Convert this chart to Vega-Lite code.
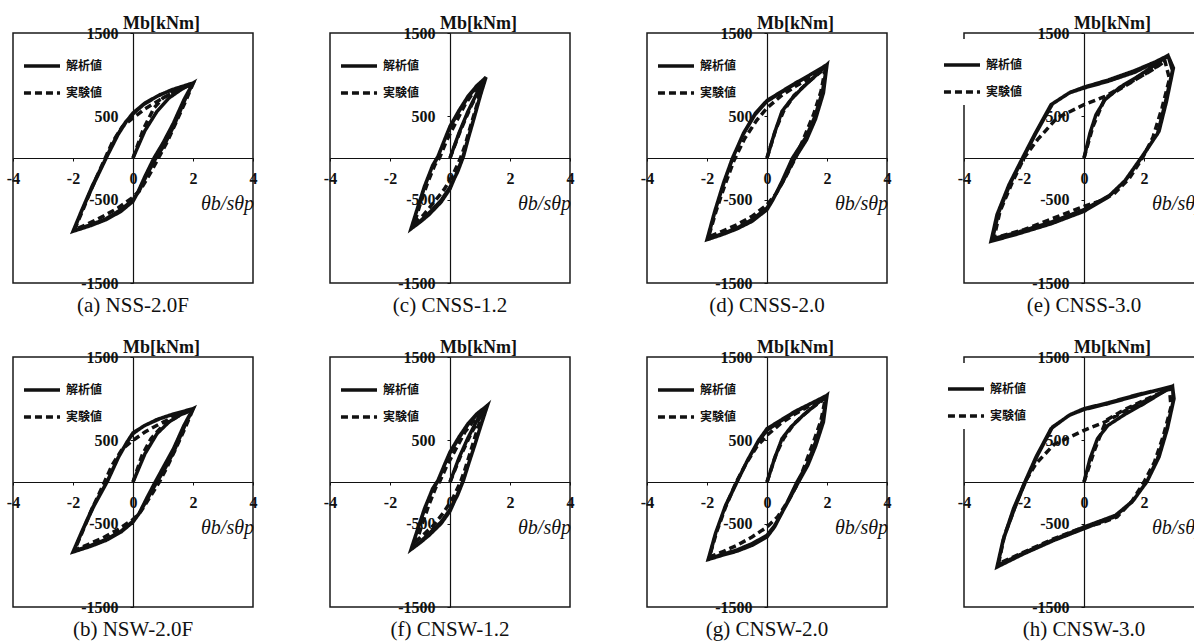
{
"$schema": "https://vega.github.io/schema/vega-lite/v6.json",
"padding": {"left": 5, "top": 13, "right": 0, "bottom": 0},
"columns": 4,
"spacing": {"row": 74, "column": 77},
"bounds": "flush",
"resolve": {"scale": {"x": "independent", "y": "independent", "strokeDash": "independent"}, "legend": {"strokeDash": "independent"}},
"datasets": {
"a": [
{"s":"解析値","o":0,"x":0,"y":0},{"s":"解析値","o":1,"x":0.4,"y":330},{"s":"解析値","o":2,"x":0.8,"y":560},{"s":"解析値","o":3,"x":1.2,"y":720},{"s":"解析値","o":4,"x":1.6,"y":820},{"s":"解析値","o":5,"x":2,"y":900},
{"s":"解析値","o":6,"x":1.7,"y":700},{"s":"解析値","o":7,"x":1.35,"y":420},{"s":"解析値","o":8,"x":1.0,"y":180},{"s":"解析値","o":9,"x":0.7,"y":0},{"s":"解析値","o":10,"x":0.4,"y":-220},{"s":"解析値","o":11,"x":0.15,"y":-420},{"s":"解析値","o":12,"x":0,"y":-520},{"s":"解析値","o":13,"x":-0.4,"y":-640},{"s":"解析値","o":14,"x":-0.9,"y":-740},{"s":"解析値","o":15,"x":-1.4,"y":-810},{"s":"解析値","o":16,"x":-2,"y":-880},
{"s":"解析値","o":17,"x":-1.7,"y":-620},{"s":"解析値","o":18,"x":-1.35,"y":-330},{"s":"解析値","o":19,"x":-0.9,"y":0},{"s":"解析値","o":20,"x":-0.55,"y":260},{"s":"解析値","o":21,"x":-0.25,"y":430},{"s":"解析値","o":22,"x":0,"y":530},{"s":"解析値","o":23,"x":0.35,"y":640},{"s":"解析値","o":24,"x":0.8,"y":740},{"s":"解析値","o":25,"x":1.3,"y":820},{"s":"解析値","o":26,"x":2,"y":900},
{"s":"解析値","o":27,"x":1.72,"y":690},{"s":"解析値","o":28,"x":1.38,"y":400},{"s":"解析値","o":29,"x":1.05,"y":160},{"s":"解析値","o":30,"x":0.75,"y":-10},{"s":"解析値","o":31,"x":0.45,"y":-210},{"s":"解析値","o":32,"x":0.2,"y":-400},{"s":"解析値","o":33,"x":0,"y":-500},{"s":"解析値","o":34,"x":-0.4,"y":-620},{"s":"解析値","o":35,"x":-0.9,"y":-730},{"s":"解析値","o":36,"x":-1.4,"y":-800},{"s":"解析値","o":37,"x":-1.98,"y":-870},
{"s":"解析値","o":38,"x":-1.68,"y":-610},{"s":"解析値","o":39,"x":-1.32,"y":-320},{"s":"解析値","o":40,"x":-0.88,"y":10},{"s":"解析値","o":41,"x":-0.5,"y":280},{"s":"解析値","o":42,"x":-0.2,"y":450},{"s":"解析値","o":43,"x":0,"y":540},{"s":"解析値","o":44,"x":0.4,"y":660},{"s":"解析値","o":45,"x":0.9,"y":760},{"s":"解析値","o":46,"x":1.4,"y":830},{"s":"解析値","o":47,"x":1.98,"y":895},
{"s":"実験値","o":0,"x":0,"y":0},{"s":"実験値","o":1,"x":0.35,"y":350},{"s":"実験値","o":2,"x":0.7,"y":600},{"s":"実験値","o":3,"x":1.0,"y":720},{"s":"実験値","o":4,"x":1.5,"y":820},{"s":"実験値","o":5,"x":2,"y":890},
{"s":"実験値","o":6,"x":1.75,"y":680},{"s":"実験値","o":7,"x":1.45,"y":440},{"s":"実験値","o":8,"x":1.15,"y":200},{"s":"実験値","o":9,"x":0.85,"y":0},{"s":"実験値","o":10,"x":0.55,"y":-200},{"s":"実験値","o":11,"x":0.25,"y":-380},{"s":"実験値","o":12,"x":0,"y":-470},{"s":"実験値","o":13,"x":-0.5,"y":-600},{"s":"実験値","o":14,"x":-1,"y":-700},{"s":"実験値","o":15,"x":-1.5,"y":-790},{"s":"実験値","o":16,"x":-1.95,"y":-860},
{"s":"実験値","o":17,"x":-1.7,"y":-650},{"s":"実験値","o":18,"x":-1.4,"y":-380},{"s":"実験値","o":19,"x":-1.0,"y":-60},{"s":"実験値","o":20,"x":-0.7,"y":180},{"s":"実験値","o":21,"x":-0.35,"y":380},{"s":"実験値","o":22,"x":0,"y":480},{"s":"実験値","o":23,"x":0.4,"y":590},{"s":"実験値","o":24,"x":0.9,"y":700},{"s":"実験値","o":25,"x":1.4,"y":800},{"s":"実験値","o":26,"x":1.95,"y":885}
],
"b": [
{"s":"解析値","o":0,"x":0,"y":0},{"s":"解析値","o":1,"x":0.4,"y":340},{"s":"解析値","o":2,"x":0.8,"y":580},{"s":"解析値","o":3,"x":1.2,"y":720},{"s":"解析値","o":4,"x":1.6,"y":810},{"s":"解析値","o":5,"x":2,"y":880},
{"s":"解析値","o":6,"x":1.7,"y":680},{"s":"解析値","o":7,"x":1.35,"y":400},{"s":"解析値","o":8,"x":1.0,"y":170},{"s":"解析値","o":9,"x":0.74,"y":0},{"s":"解析値","o":10,"x":0.45,"y":-200},{"s":"解析値","o":11,"x":0.2,"y":-380},{"s":"解析値","o":12,"x":0,"y":-480},{"s":"解析値","o":13,"x":-0.4,"y":-600},{"s":"解析値","o":14,"x":-0.9,"y":-700},{"s":"解析値","o":15,"x":-1.4,"y":-770},{"s":"解析値","o":16,"x":-2,"y":-840},
{"s":"解析値","o":17,"x":-1.7,"y":-590},{"s":"解析値","o":18,"x":-1.35,"y":-310},{"s":"解析値","o":19,"x":-0.87,"y":0},{"s":"解析値","o":20,"x":-0.5,"y":290},{"s":"解析値","o":21,"x":-0.2,"y":480},{"s":"解析値","o":22,"x":0,"y":580},{"s":"解析値","o":23,"x":0.35,"y":670},{"s":"解析値","o":24,"x":0.8,"y":750},{"s":"解析値","o":25,"x":1.3,"y":810},{"s":"解析値","o":26,"x":2,"y":880},
{"s":"解析値","o":27,"x":1.72,"y":670},{"s":"解析値","o":28,"x":1.38,"y":380},{"s":"解析値","o":29,"x":1.05,"y":150},{"s":"解析値","o":30,"x":0.78,"y":-10},{"s":"解析値","o":31,"x":0.5,"y":-190},{"s":"解析値","o":32,"x":0.22,"y":-370},{"s":"解析値","o":33,"x":0,"y":-470},{"s":"解析値","o":34,"x":-0.4,"y":-590},{"s":"解析値","o":35,"x":-0.9,"y":-690},{"s":"解析値","o":36,"x":-1.4,"y":-760},{"s":"解析値","o":37,"x":-1.98,"y":-830},
{"s":"解析値","o":38,"x":-1.68,"y":-580},{"s":"解析値","o":39,"x":-1.32,"y":-300},{"s":"解析値","o":40,"x":-0.85,"y":10},{"s":"解析値","o":41,"x":-0.48,"y":300},{"s":"解析値","o":42,"x":-0.18,"y":490},{"s":"解析値","o":43,"x":0,"y":590},{"s":"解析値","o":44,"x":0.4,"y":680},{"s":"解析値","o":45,"x":0.9,"y":760},{"s":"解析値","o":46,"x":1.4,"y":820},{"s":"解析値","o":47,"x":1.98,"y":875},
{"s":"実験値","o":0,"x":0,"y":0},{"s":"実験値","o":1,"x":0.3,"y":320},{"s":"実験値","o":2,"x":0.6,"y":520},{"s":"実験値","o":3,"x":1.0,"y":680},{"s":"実験値","o":4,"x":1.5,"y":790},{"s":"実験値","o":5,"x":2,"y":870},
{"s":"実験値","o":6,"x":1.75,"y":660},{"s":"実験値","o":7,"x":1.45,"y":420},{"s":"実験値","o":8,"x":1.15,"y":190},{"s":"実験値","o":9,"x":0.88,"y":0},{"s":"実験値","o":10,"x":0.55,"y":-190},{"s":"実験値","o":11,"x":0.25,"y":-360},{"s":"実験値","o":12,"x":0,"y":-450},{"s":"実験値","o":13,"x":-0.5,"y":-570},{"s":"実験値","o":14,"x":-1,"y":-670},{"s":"実験値","o":15,"x":-1.5,"y":-750},{"s":"実験値","o":16,"x":-1.95,"y":-820},
{"s":"実験値","o":17,"x":-1.7,"y":-610},{"s":"実験値","o":18,"x":-1.4,"y":-350},{"s":"実験値","o":19,"x":-1.0,"y":-40},{"s":"実験値","o":20,"x":-0.7,"y":200},{"s":"実験値","o":21,"x":-0.35,"y":400},{"s":"実験値","o":22,"x":0,"y":500},{"s":"実験値","o":23,"x":0.4,"y":600},{"s":"実験値","o":24,"x":0.9,"y":700},{"s":"実験値","o":25,"x":1.4,"y":790},{"s":"実験値","o":26,"x":1.95,"y":865}
],
"c": [
{"s":"解析値","o":0,"x":0,"y":0},{"s":"解析値","o":1,"x":0.3,"y":300},{"s":"解析値","o":2,"x":0.6,"y":560},{"s":"解析値","o":3,"x":0.9,"y":780},{"s":"解析値","o":4,"x":1.2,"y":970},
{"s":"解析値","o":5,"x":1.0,"y":740},{"s":"解析値","o":6,"x":0.8,"y":480},{"s":"解析値","o":7,"x":0.6,"y":230},{"s":"解析値","o":8,"x":0.42,"y":0},{"s":"解析値","o":9,"x":0.2,"y":-200},{"s":"解析値","o":10,"x":0,"y":-370},{"s":"解析値","o":11,"x":-0.3,"y":-530},{"s":"解析値","o":12,"x":-0.7,"y":-680},{"s":"解析値","o":13,"x":-1.0,"y":-770},{"s":"解析値","o":14,"x":-1.3,"y":-850},
{"s":"解析値","o":15,"x":-1.1,"y":-620},{"s":"解析値","o":16,"x":-0.85,"y":-340},{"s":"解析値","o":17,"x":-0.6,"y":-110},{"s":"解析値","o":18,"x":-0.42,"y":0},{"s":"解析値","o":19,"x":-0.2,"y":200},{"s":"解析値","o":20,"x":0,"y":370},{"s":"解析値","o":21,"x":0.3,"y":560},{"s":"解析値","o":22,"x":0.6,"y":730},{"s":"解析値","o":23,"x":0.9,"y":860},{"s":"解析値","o":24,"x":1.2,"y":970},
{"s":"解析値","o":25,"x":1.02,"y":760},{"s":"解析値","o":26,"x":0.82,"y":500},{"s":"解析値","o":27,"x":0.62,"y":250},{"s":"解析値","o":28,"x":0.45,"y":20},{"s":"解析値","o":29,"x":0.25,"y":-170},{"s":"解析値","o":30,"x":0,"y":-350},{"s":"解析値","o":31,"x":-0.3,"y":-510},{"s":"解析値","o":32,"x":-0.7,"y":-660},{"s":"解析値","o":33,"x":-1.0,"y":-760},{"s":"解析値","o":34,"x":-1.28,"y":-840},
{"s":"解析値","o":35,"x":-1.08,"y":-600},{"s":"解析値","o":36,"x":-0.82,"y":-320},{"s":"解析値","o":37,"x":-0.58,"y":-90},{"s":"解析値","o":38,"x":-0.4,"y":20},{"s":"解析値","o":39,"x":-0.18,"y":220},{"s":"解析値","o":40,"x":0,"y":380},{"s":"解析値","o":41,"x":0.3,"y":570},{"s":"解析値","o":42,"x":0.6,"y":740},{"s":"解析値","o":43,"x":0.9,"y":870},{"s":"解析値","o":44,"x":1.18,"y":960},
{"s":"実験値","o":0,"x":0,"y":0},{"s":"実験値","o":1,"x":0.35,"y":330},{"s":"実験値","o":2,"x":0.7,"y":620},{"s":"実験値","o":3,"x":1.15,"y":940},
{"s":"実験値","o":4,"x":0.95,"y":700},{"s":"実験値","o":5,"x":0.7,"y":400},{"s":"実験値","o":6,"x":0.5,"y":150},{"s":"実験値","o":7,"x":0.35,"y":0},{"s":"実験値","o":8,"x":0.1,"y":-200},{"s":"実験値","o":9,"x":-0.2,"y":-380},{"s":"実験値","o":10,"x":-0.6,"y":-560},{"s":"実験値","o":11,"x":-0.9,"y":-690},{"s":"実験値","o":12,"x":-1.2,"y":-800},
{"s":"実験値","o":13,"x":-1.0,"y":-560},{"s":"実験値","o":14,"x":-0.75,"y":-300},{"s":"実験値","o":15,"x":-0.5,"y":-80},{"s":"実験値","o":16,"x":-0.35,"y":0},{"s":"実験値","o":17,"x":-0.1,"y":220},{"s":"実験値","o":18,"x":0.2,"y":430},{"s":"実験値","o":19,"x":0.5,"y":640},{"s":"実験値","o":20,"x":0.8,"y":800},{"s":"実験値","o":21,"x":1.15,"y":940}
],
"f": [
{"s":"解析値","o":0,"x":0,"y":0},{"s":"解析値","o":1,"x":0.3,"y":290},{"s":"解析値","o":2,"x":0.6,"y":530},{"s":"解析値","o":3,"x":0.9,"y":740},{"s":"解析値","o":4,"x":1.25,"y":920},
{"s":"解析値","o":5,"x":1.05,"y":700},{"s":"解析値","o":6,"x":0.83,"y":450},{"s":"解析値","o":7,"x":0.62,"y":220},{"s":"解析値","o":8,"x":0.42,"y":0},{"s":"解析値","o":9,"x":0.2,"y":-190},{"s":"解析値","o":10,"x":0,"y":-350},{"s":"解析値","o":11,"x":-0.3,"y":-500},{"s":"解析値","o":12,"x":-0.7,"y":-640},{"s":"解析値","o":13,"x":-1.0,"y":-730},{"s":"解析値","o":14,"x":-1.3,"y":-810},
{"s":"解析値","o":15,"x":-1.1,"y":-590},{"s":"解析値","o":16,"x":-0.85,"y":-320},{"s":"解析値","o":17,"x":-0.6,"y":-100},{"s":"解析値","o":18,"x":-0.42,"y":0},{"s":"解析値","o":19,"x":-0.2,"y":190},{"s":"解析値","o":20,"x":0,"y":350},{"s":"解析値","o":21,"x":0.3,"y":530},{"s":"解析値","o":22,"x":0.6,"y":690},{"s":"解析値","o":23,"x":0.9,"y":810},{"s":"解析値","o":24,"x":1.25,"y":920},
{"s":"解析値","o":25,"x":1.06,"y":720},{"s":"解析値","o":26,"x":0.85,"y":470},{"s":"解析値","o":27,"x":0.64,"y":240},{"s":"解析値","o":28,"x":0.45,"y":20},{"s":"解析値","o":29,"x":0.25,"y":-160},{"s":"解析値","o":30,"x":0,"y":-330},{"s":"解析値","o":31,"x":-0.3,"y":-480},{"s":"解析値","o":32,"x":-0.7,"y":-620},{"s":"解析値","o":33,"x":-1.0,"y":-720},{"s":"解析値","o":34,"x":-1.28,"y":-800},
{"s":"解析値","o":35,"x":-1.08,"y":-570},{"s":"解析値","o":36,"x":-0.82,"y":-300},{"s":"解析値","o":37,"x":-0.58,"y":-80},{"s":"解析値","o":38,"x":-0.4,"y":20},{"s":"解析値","o":39,"x":-0.18,"y":210},{"s":"解析値","o":40,"x":0,"y":360},{"s":"解析値","o":41,"x":0.3,"y":540},{"s":"解析値","o":42,"x":0.6,"y":700},{"s":"解析値","o":43,"x":0.9,"y":820},{"s":"解析値","o":44,"x":1.22,"y":910},
{"s":"実験値","o":0,"x":0,"y":0},{"s":"実験値","o":1,"x":0.35,"y":310},{"s":"実験値","o":2,"x":0.7,"y":580},{"s":"実験値","o":3,"x":1.1,"y":840},
{"s":"実験値","o":4,"x":0.9,"y":620},{"s":"実験値","o":5,"x":0.68,"y":360},{"s":"実験値","o":6,"x":0.48,"y":130},{"s":"実験値","o":7,"x":0.35,"y":0},{"s":"実験値","o":8,"x":0.1,"y":-190},{"s":"実験値","o":9,"x":-0.2,"y":-360},{"s":"実験値","o":10,"x":-0.55,"y":-520},{"s":"実験値","o":11,"x":-0.85,"y":-620},{"s":"実験値","o":12,"x":-1.1,"y":-700},
{"s":"実験値","o":13,"x":-0.92,"y":-500},{"s":"実験値","o":14,"x":-0.7,"y":-270},{"s":"実験値","o":15,"x":-0.48,"y":-70},{"s":"実験値","o":16,"x":-0.35,"y":0},{"s":"実験値","o":17,"x":-0.1,"y":200},{"s":"実験値","o":18,"x":0.2,"y":400},{"s":"実験値","o":19,"x":0.5,"y":600},{"s":"実験値","o":20,"x":0.8,"y":740},{"s":"実験値","o":21,"x":1.1,"y":840}
],
"d": [
{"s":"解析値","o":0,"x":0,"y":0},{"s":"解析値","o":1,"x":0.25,"y":300},{"s":"解析値","o":2,"x":0.5,"y":560},{"s":"解析値","o":3,"x":0.8,"y":700},{"s":"解析値","o":4,"x":1.2,"y":850},{"s":"解析値","o":5,"x":1.6,"y":980},{"s":"解析値","o":6,"x":2,"y":1120},
{"s":"解析値","o":7,"x":1.85,"y":800},{"s":"解析値","o":8,"x":1.6,"y":500},{"s":"解析値","o":9,"x":1.3,"y":250},{"s":"解析値","o":10,"x":0.85,"y":0},{"s":"解析値","o":11,"x":0.5,"y":-280},{"s":"解析値","o":12,"x":0.2,"y":-500},{"s":"解析値","o":13,"x":0,"y":-620},{"s":"解析値","o":14,"x":-0.5,"y":-760},{"s":"解析値","o":15,"x":-1,"y":-850},{"s":"解析値","o":16,"x":-1.5,"y":-920},{"s":"解析値","o":17,"x":-2,"y":-980},
{"s":"解析値","o":18,"x":-1.75,"y":-650},{"s":"解析値","o":19,"x":-1.45,"y":-300},{"s":"解析値","o":20,"x":-1.15,"y":0},{"s":"解析値","o":21,"x":-0.8,"y":280},{"s":"解析値","o":22,"x":-0.4,"y":520},{"s":"解析値","o":23,"x":0,"y":680},{"s":"解析値","o":24,"x":0.4,"y":770},{"s":"解析値","o":25,"x":0.9,"y":880},{"s":"解析値","o":26,"x":1.4,"y":990},{"s":"解析値","o":27,"x":2,"y":1120},
{"s":"解析値","o":28,"x":1.88,"y":780},{"s":"解析値","o":29,"x":1.62,"y":470},{"s":"解析値","o":30,"x":1.32,"y":220},{"s":"解析値","o":31,"x":0.9,"y":-20},{"s":"解析値","o":32,"x":0.55,"y":-270},{"s":"解析値","o":33,"x":0.22,"y":-480},{"s":"解析値","o":34,"x":0,"y":-600},{"s":"解析値","o":35,"x":-0.5,"y":-740},{"s":"解析値","o":36,"x":-1,"y":-840},{"s":"解析値","o":37,"x":-1.5,"y":-910},{"s":"解析値","o":38,"x":-1.98,"y":-970},
{"s":"解析値","o":39,"x":-1.72,"y":-620},{"s":"解析値","o":40,"x":-1.42,"y":-280},{"s":"解析値","o":41,"x":-1.12,"y":20},{"s":"解析値","o":42,"x":-0.78,"y":300},{"s":"解析値","o":43,"x":-0.38,"y":540},{"s":"解析値","o":44,"x":0,"y":690},{"s":"解析値","o":45,"x":0.45,"y":790},{"s":"解析値","o":46,"x":0.95,"y":900},{"s":"解析値","o":47,"x":1.45,"y":1000},{"s":"解析値","o":48,"x":1.98,"y":1090},
{"s":"実験値","o":0,"x":0,"y":0},{"s":"実験値","o":1,"x":0.3,"y":350},{"s":"実験値","o":2,"x":0.55,"y":560},{"s":"実験値","o":3,"x":0.9,"y":750},{"s":"実験値","o":4,"x":1.4,"y":920},{"s":"実験値","o":5,"x":1.95,"y":1080},
{"s":"実験値","o":6,"x":1.8,"y":800},{"s":"実験値","o":7,"x":1.55,"y":520},{"s":"実験値","o":8,"x":1.25,"y":260},{"s":"実験値","o":9,"x":0.95,"y":0},{"s":"実験値","o":10,"x":0.6,"y":-240},{"s":"実験値","o":11,"x":0.3,"y":-430},{"s":"実験値","o":12,"x":0,"y":-560},{"s":"実験値","o":13,"x":-0.5,"y":-700},{"s":"実験値","o":14,"x":-1,"y":-800},{"s":"実験値","o":15,"x":-1.5,"y":-880},{"s":"実験値","o":16,"x":-1.95,"y":-950},
{"s":"実験値","o":17,"x":-1.7,"y":-640},{"s":"実験値","o":18,"x":-1.4,"y":-320},{"s":"実験値","o":19,"x":-1.1,"y":-30},{"s":"実験値","o":20,"x":-0.75,"y":230},{"s":"実験値","o":21,"x":-0.35,"y":450},{"s":"実験値","o":22,"x":0,"y":600},{"s":"実験値","o":23,"x":0.45,"y":740},{"s":"実験値","o":24,"x":0.95,"y":860},{"s":"実験値","o":25,"x":1.45,"y":960},{"s":"実験値","o":26,"x":1.95,"y":1070}
],
"g": [
{"s":"解析値","o":0,"x":0,"y":0},{"s":"解析値","o":1,"x":0.25,"y":280},{"s":"解析値","o":2,"x":0.5,"y":520},{"s":"解析値","o":3,"x":0.8,"y":660},{"s":"解析値","o":4,"x":1.2,"y":800},{"s":"解析値","o":5,"x":1.6,"y":920},{"s":"解析値","o":6,"x":2,"y":1040},
{"s":"解析値","o":7,"x":1.85,"y":740},{"s":"解析値","o":8,"x":1.6,"y":460},{"s":"解析値","o":9,"x":1.35,"y":220},{"s":"解析値","o":10,"x":1.0,"y":0},{"s":"解析値","o":11,"x":0.6,"y":-300},{"s":"解析値","o":12,"x":0.25,"y":-540},{"s":"解析値","o":13,"x":0,"y":-660},{"s":"解析値","o":14,"x":-0.5,"y":-760},{"s":"解析値","o":15,"x":-1,"y":-830},{"s":"解析値","o":16,"x":-1.5,"y":-880},{"s":"解析値","o":17,"x":-1.96,"y":-930},
{"s":"解析値","o":18,"x":-1.72,"y":-620},{"s":"解析値","o":19,"x":-1.4,"y":-300},{"s":"解析値","o":20,"x":-1.0,"y":0},{"s":"解析値","o":21,"x":-0.65,"y":260},{"s":"解析値","o":22,"x":-0.3,"y":480},{"s":"解析値","o":23,"x":0,"y":620},{"s":"解析値","o":24,"x":0.4,"y":720},{"s":"解析値","o":25,"x":0.9,"y":830},{"s":"解析値","o":26,"x":1.4,"y":930},{"s":"解析値","o":27,"x":2,"y":1040},
{"s":"解析値","o":28,"x":1.88,"y":720},{"s":"解析値","o":29,"x":1.62,"y":430},{"s":"解析値","o":30,"x":1.36,"y":200},{"s":"解析値","o":31,"x":1.02,"y":-20},{"s":"解析値","o":32,"x":0.62,"y":-290},{"s":"解析値","o":33,"x":0.26,"y":-520},{"s":"解析値","o":34,"x":0,"y":-640},{"s":"解析値","o":35,"x":-0.5,"y":-740},{"s":"解析値","o":36,"x":-1,"y":-815},{"s":"解析値","o":37,"x":-1.5,"y":-870},{"s":"解析値","o":38,"x":-1.94,"y":-920},
{"s":"解析値","o":39,"x":-1.7,"y":-600},{"s":"解析値","o":40,"x":-1.38,"y":-280},{"s":"解析値","o":41,"x":-0.98,"y":20},{"s":"解析値","o":42,"x":-0.62,"y":280},{"s":"解析値","o":43,"x":-0.28,"y":500},{"s":"解析値","o":44,"x":0,"y":640},{"s":"解析値","o":45,"x":0.45,"y":740},{"s":"解析値","o":46,"x":0.95,"y":850},{"s":"解析値","o":47,"x":1.45,"y":940},{"s":"解析値","o":48,"x":1.98,"y":1030},
{"s":"実験値","o":0,"x":0,"y":0},{"s":"実験値","o":1,"x":0.3,"y":330},{"s":"実験値","o":2,"x":0.55,"y":520},{"s":"実験値","o":3,"x":0.9,"y":700},{"s":"実験値","o":4,"x":1.4,"y":860},{"s":"実験値","o":5,"x":1.95,"y":1010},
{"s":"実験値","o":6,"x":1.8,"y":740},{"s":"実験値","o":7,"x":1.55,"y":480},{"s":"実験値","o":8,"x":1.3,"y":240},{"s":"実験値","o":9,"x":1.05,"y":0},{"s":"実験値","o":10,"x":0.7,"y":-230},{"s":"実験値","o":11,"x":0.35,"y":-420},{"s":"実験値","o":12,"x":0,"y":-540},{"s":"実験値","o":13,"x":-0.5,"y":-660},{"s":"実験値","o":14,"x":-1,"y":-760},{"s":"実験値","o":15,"x":-1.5,"y":-840},{"s":"実験値","o":16,"x":-1.92,"y":-900},
{"s":"実験値","o":17,"x":-1.68,"y":-600},{"s":"実験値","o":18,"x":-1.38,"y":-300},{"s":"実験値","o":19,"x":-1.05,"y":-20},{"s":"実験値","o":20,"x":-0.7,"y":220},{"s":"実験値","o":21,"x":-0.35,"y":420},{"s":"実験値","o":22,"x":0,"y":560},{"s":"実験値","o":23,"x":0.45,"y":700},{"s":"実験値","o":24,"x":0.95,"y":820},{"s":"実験値","o":25,"x":1.45,"y":920},{"s":"実験値","o":26,"x":1.95,"y":1000}
],
"e": [
{"s":"解析値","o":0,"x":0,"y":0},{"s":"解析値","o":1,"x":0.2,"y":300},{"s":"解析値","o":2,"x":0.4,"y":520},{"s":"解析値","o":3,"x":0.7,"y":700},{"s":"解析値","o":4,"x":1.2,"y":850},{"s":"解析値","o":5,"x":1.8,"y":980},{"s":"解析値","o":6,"x":2.3,"y":1100},{"s":"解析値","o":7,"x":2.8,"y":1230},
{"s":"解析値","o":8,"x":2.95,"y":1050},{"s":"解析値","o":9,"x":2.7,"y":650},{"s":"解析値","o":10,"x":2.45,"y":290},{"s":"解析値","o":11,"x":1.9,"y":0},{"s":"解析値","o":12,"x":1.35,"y":-280},{"s":"解析値","o":13,"x":0.8,"y":-470},{"s":"解析値","o":14,"x":0,"y":-640},{"s":"解析値","o":15,"x":-1.1,"y":-790},{"s":"解析値","o":16,"x":-2.2,"y":-910},{"s":"解析値","o":17,"x":-3.1,"y":-1000},
{"s":"解析値","o":18,"x":-2.9,"y":-680},{"s":"解析値","o":19,"x":-2.5,"y":-320},{"s":"解析値","o":20,"x":-2.05,"y":0},{"s":"解析値","o":21,"x":-1.65,"y":280},{"s":"解析値","o":22,"x":-1.1,"y":640},{"s":"解析値","o":23,"x":-0.5,"y":780},{"s":"解析値","o":24,"x":0,"y":840},{"s":"解析値","o":25,"x":0.8,"y":920},{"s":"解析値","o":26,"x":1.7,"y":1030},{"s":"解析値","o":27,"x":2.8,"y":1230},
{"s":"解析値","o":28,"x":2.98,"y":1080},{"s":"解析値","o":29,"x":2.75,"y":680},{"s":"解析値","o":30,"x":2.5,"y":320},{"s":"解析値","o":31,"x":1.95,"y":20},{"s":"解析値","o":32,"x":1.4,"y":-260},{"s":"解析値","o":33,"x":0.85,"y":-450},{"s":"解析値","o":34,"x":0,"y":-620},{"s":"解析値","o":35,"x":-1.1,"y":-770},{"s":"解析値","o":36,"x":-2.2,"y":-890},{"s":"解析値","o":37,"x":-3.05,"y":-970},
{"s":"解析値","o":38,"x":-2.85,"y":-660},{"s":"解析値","o":39,"x":-2.45,"y":-300},{"s":"解析値","o":40,"x":-2.0,"y":20},{"s":"解析値","o":41,"x":-1.6,"y":300},{"s":"解析値","o":42,"x":-1.05,"y":650},{"s":"解析値","o":43,"x":-0.45,"y":790},{"s":"解析値","o":44,"x":0,"y":850},{"s":"解析値","o":45,"x":0.8,"y":935},{"s":"解析値","o":46,"x":1.7,"y":1050},{"s":"解析値","o":47,"x":2.75,"y":1210},
{"s":"実験値","o":0,"x":0,"y":0},{"s":"実験値","o":1,"x":0.3,"y":380},{"s":"実験値","o":2,"x":0.7,"y":720},{"s":"実験値","o":3,"x":1.3,"y":850},{"s":"実験値","o":4,"x":2.0,"y":1000},{"s":"実験値","o":5,"x":2.7,"y":1160},
{"s":"実験値","o":6,"x":2.85,"y":950},{"s":"実験値","o":7,"x":2.6,"y":600},{"s":"実験値","o":8,"x":2.3,"y":250},{"s":"実験値","o":9,"x":1.95,"y":0},{"s":"実験値","o":10,"x":1.5,"y":-250},{"s":"実験値","o":11,"x":1.0,"y":-430},{"s":"実験値","o":12,"x":0.5,"y":-520},{"s":"実験値","o":13,"x":0,"y":-580},{"s":"実験値","o":14,"x":-1,"y":-720},{"s":"実験値","o":15,"x":-2,"y":-860},{"s":"実験値","o":16,"x":-3.0,"y":-960},
{"s":"実験値","o":17,"x":-2.8,"y":-640},{"s":"実験値","o":18,"x":-2.4,"y":-300},{"s":"実験値","o":19,"x":-2.0,"y":0},{"s":"実験値","o":20,"x":-1.55,"y":220},{"s":"実験値","o":21,"x":-0.9,"y":480},{"s":"実験値","o":22,"x":0,"y":640},{"s":"実験値","o":23,"x":0.7,"y":740},{"s":"実験値","o":24,"x":1.5,"y":900},{"s":"実験値","o":25,"x":2.2,"y":1040},{"s":"実験値","o":26,"x":2.7,"y":1160}
],
"h": [
{"s":"解析値","o":0,"x":0,"y":0},{"s":"解析値","o":1,"x":0.2,"y":280},{"s":"解析値","o":2,"x":0.45,"y":520},{"s":"解析値","o":3,"x":0.8,"y":680},{"s":"解析値","o":4,"x":1.4,"y":820},{"s":"解析値","o":5,"x":2.0,"y":940},{"s":"解析値","o":6,"x":2.5,"y":1050},{"s":"解析値","o":7,"x":2.95,"y":1150},
{"s":"解析値","o":8,"x":2.98,"y":980},{"s":"解析値","o":9,"x":2.75,"y":620},{"s":"解析値","o":10,"x":2.45,"y":280},{"s":"解析値","o":11,"x":2.09,"y":0},{"s":"解析値","o":12,"x":1.6,"y":-240},{"s":"解析値","o":13,"x":1.0,"y":-420},{"s":"解析値","o":14,"x":0,"y":-560},{"s":"解析値","o":15,"x":-1.0,"y":-700},{"s":"解析値","o":16,"x":-2.0,"y":-860},{"s":"解析値","o":17,"x":-2.9,"y":-1020},
{"s":"解析値","o":18,"x":-2.7,"y":-700},{"s":"解析値","o":19,"x":-2.35,"y":-320},{"s":"解析値","o":20,"x":-1.97,"y":0},{"s":"解析値","o":21,"x":-1.6,"y":300},{"s":"解析値","o":22,"x":-1.1,"y":640},{"s":"解析値","o":23,"x":-0.5,"y":800},{"s":"解析値","o":24,"x":0,"y":870},{"s":"解析値","o":25,"x":0.8,"y":940},{"s":"解析値","o":26,"x":1.8,"y":1040},{"s":"解析値","o":27,"x":2.95,"y":1150},
{"s":"解析値","o":28,"x":3.0,"y":1000},{"s":"解析値","o":29,"x":2.78,"y":640},{"s":"解析値","o":30,"x":2.5,"y":300},{"s":"解析値","o":31,"x":2.12,"y":20},{"s":"解析値","o":32,"x":1.65,"y":-220},{"s":"解析値","o":33,"x":1.05,"y":-400},{"s":"解析値","o":34,"x":0,"y":-540},{"s":"解析値","o":35,"x":-1.0,"y":-690},{"s":"解析値","o":36,"x":-2.0,"y":-850},{"s":"解析値","o":37,"x":-2.88,"y":-1000},
{"s":"解析値","o":38,"x":-2.68,"y":-680},{"s":"解析値","o":39,"x":-2.3,"y":-300},{"s":"解析値","o":40,"x":-1.93,"y":20},{"s":"解析値","o":41,"x":-1.55,"y":320},{"s":"解析値","o":42,"x":-1.05,"y":660},{"s":"解析値","o":43,"x":-0.45,"y":810},{"s":"解析値","o":44,"x":0,"y":880},{"s":"解析値","o":45,"x":0.8,"y":950},{"s":"解析値","o":46,"x":1.8,"y":1050},{"s":"解析値","o":47,"x":2.9,"y":1140},
{"s":"実験値","o":0,"x":0,"y":0},{"s":"実験値","o":1,"x":0.35,"y":380},{"s":"実験値","o":2,"x":0.74,"y":740},{"s":"実験値","o":3,"x":1.3,"y":860},{"s":"実験値","o":4,"x":2.0,"y":980},{"s":"実験値","o":5,"x":2.85,"y":1120},
{"s":"実験値","o":6,"x":2.9,"y":900},{"s":"実験値","o":7,"x":2.65,"y":560},{"s":"実験値","o":8,"x":2.35,"y":240},{"s":"実験値","o":9,"x":2.0,"y":0},{"s":"実験値","o":10,"x":1.6,"y":-230},{"s":"実験値","o":11,"x":1.1,"y":-420},{"s":"実験値","o":12,"x":0.5,"y":-500},{"s":"実験値","o":13,"x":0,"y":-540},{"s":"実験値","o":14,"x":-1,"y":-680},{"s":"実験値","o":15,"x":-2,"y":-840},{"s":"実験値","o":16,"x":-2.85,"y":-980},
{"s":"実験値","o":17,"x":-2.65,"y":-640},{"s":"実験値","o":18,"x":-2.3,"y":-300},{"s":"実験値","o":19,"x":-1.97,"y":0},{"s":"実験値","o":20,"x":-1.6,"y":220},{"s":"実験値","o":21,"x":-1.0,"y":450},{"s":"実験値","o":22,"x":0,"y":620},{"s":"実験値","o":23,"x":0.7,"y":720},{"s":"実験値","o":24,"x":1.5,"y":880},{"s":"実験値","o":25,"x":2.2,"y":1000},{"s":"実験値","o":26,"x":2.85,"y":1120}
]
},
"concat": [
{"title": "(a) NSS-2.0F", "data": {"name": "a"}, "width": 240, "height": 250,
 "mark": {"type": "line", "strokeWidth": 3.5, "color": "#111"},
 "encoding": {
  "x": {"field": "x", "type": "quantitative", "scale": {"domain": [-4, 4], "nice": false, "zero": false}, "axis": {"values": [-4, -2, 0, 2, 4], "labelExpr": "'' + datum.value", "offset": -125, "title": "θb/sθp", "titleX": 214, "titleY": 45}},
  "y": {"field": "y", "type": "quantitative", "scale": {"domain": [-1500, 1500], "nice": false}, "axis": {"values": [-1500, -500, 500, 1500], "labelExpr": "'' + datum.value", "offset": -120, "title": "Mb[kNm]", "titleX": 28, "titleY": -10}},
  "strokeDash": {"field": "s", "type": "nominal", "scale": {"domain": ["解析値", "実験値"], "range": [[1, 0], [7, 4]]}, "legend": {"title": null, "orient": "none", "legendX": 9, "legendY": 13}},
  "order": {"field": "o", "type": "quantitative"}}},
{"title": "(c) CNSS-1.2", "data": {"name": "c"}, "width": 240, "height": 250,
 "mark": {"type": "line", "strokeWidth": 3.5, "color": "#111"},
 "encoding": {
  "x": {"field": "x", "type": "quantitative", "scale": {"domain": [-4, 4], "nice": false, "zero": false}, "axis": {"values": [-4, -2, 0, 2, 4], "labelExpr": "'' + datum.value", "offset": -125, "title": "θb/sθp", "titleX": 214, "titleY": 45}},
  "y": {"field": "y", "type": "quantitative", "scale": {"domain": [-1500, 1500], "nice": false}, "axis": {"values": [-1500, -500, 500, 1500], "labelExpr": "'' + datum.value", "offset": -120, "title": "Mb[kNm]", "titleX": 28, "titleY": -10}},
  "strokeDash": {"field": "s", "type": "nominal", "scale": {"domain": ["解析値", "実験値"], "range": [[1, 0], [7, 4]]}, "legend": {"title": null, "orient": "none", "legendX": 9, "legendY": 13}},
  "order": {"field": "o", "type": "quantitative"}}},
{"title": "(d) CNSS-2.0", "data": {"name": "d"}, "width": 240, "height": 250,
 "mark": {"type": "line", "strokeWidth": 3.5, "color": "#111"},
 "encoding": {
  "x": {"field": "x", "type": "quantitative", "scale": {"domain": [-4, 4], "nice": false, "zero": false}, "axis": {"values": [-4, -2, 0, 2, 4], "labelExpr": "'' + datum.value", "offset": -125, "title": "θb/sθp", "titleX": 214, "titleY": 45}},
  "y": {"field": "y", "type": "quantitative", "scale": {"domain": [-1500, 1500], "nice": false}, "axis": {"values": [-1500, -500, 500, 1500], "labelExpr": "'' + datum.value", "offset": -120, "title": "Mb[kNm]", "titleX": 28, "titleY": -10}},
  "strokeDash": {"field": "s", "type": "nominal", "scale": {"domain": ["解析値", "実験値"], "range": [[1, 0], [7, 4]]}, "legend": {"title": null, "orient": "none", "legendX": 9, "legendY": 13}},
  "order": {"field": "o", "type": "quantitative"}}},
{"title": "(e) CNSS-3.0", "data": {"name": "e"}, "width": 240, "height": 250,
 "mark": {"type": "line", "strokeWidth": 3.5, "color": "#111"},
 "encoding": {
  "x": {"field": "x", "type": "quantitative", "scale": {"domain": [-4, 4], "nice": false, "zero": false}, "axis": {"values": [-4, -2, 0, 2, 4], "labelExpr": "'' + datum.value", "offset": -125, "title": "θb/sθp", "titleX": 214, "titleY": 45}},
  "y": {"field": "y", "type": "quantitative", "scale": {"domain": [-1500, 1500], "nice": false}, "axis": {"values": [-1500, -500, 500, 1500], "labelExpr": "'' + datum.value", "offset": -120, "title": "Mb[kNm]", "titleX": 28, "titleY": -10}},
  "strokeDash": {"field": "s", "type": "nominal", "scale": {"domain": ["解析値", "実験値"], "range": [[1, 0], [7, 4]]}, "legend": {"title": null, "orient": "none", "legendX": -28, "legendY": 6, "fillColor": "white", "padding": 6}},
  "order": {"field": "o", "type": "quantitative"}}},
{"title": "(b) NSW-2.0F", "data": {"name": "b"}, "width": 240, "height": 250,
 "mark": {"type": "line", "strokeWidth": 3.5, "color": "#111"},
 "encoding": {
  "x": {"field": "x", "type": "quantitative", "scale": {"domain": [-4, 4], "nice": false, "zero": false}, "axis": {"values": [-4, -2, 0, 2, 4], "labelExpr": "'' + datum.value", "offset": -125, "title": "θb/sθp", "titleX": 214, "titleY": 45}},
  "y": {"field": "y", "type": "quantitative", "scale": {"domain": [-1500, 1500], "nice": false}, "axis": {"values": [-1500, -500, 500, 1500], "labelExpr": "'' + datum.value", "offset": -120, "title": "Mb[kNm]", "titleX": 28, "titleY": -10}},
  "strokeDash": {"field": "s", "type": "nominal", "scale": {"domain": ["解析値", "実験値"], "range": [[1, 0], [7, 4]]}, "legend": {"title": null, "orient": "none", "legendX": 9, "legendY": 13}},
  "order": {"field": "o", "type": "quantitative"}}},
{"title": "(f) CNSW-1.2", "data": {"name": "f"}, "width": 240, "height": 250,
 "mark": {"type": "line", "strokeWidth": 3.5, "color": "#111"},
 "encoding": {
  "x": {"field": "x", "type": "quantitative", "scale": {"domain": [-4, 4], "nice": false, "zero": false}, "axis": {"values": [-4, -2, 0, 2, 4], "labelExpr": "'' + datum.value", "offset": -125, "title": "θb/sθp", "titleX": 214, "titleY": 45}},
  "y": {"field": "y", "type": "quantitative", "scale": {"domain": [-1500, 1500], "nice": false}, "axis": {"values": [-1500, -500, 500, 1500], "labelExpr": "'' + datum.value", "offset": -120, "title": "Mb[kNm]", "titleX": 28, "titleY": -10}},
  "strokeDash": {"field": "s", "type": "nominal", "scale": {"domain": ["解析値", "実験値"], "range": [[1, 0], [7, 4]]}, "legend": {"title": null, "orient": "none", "legendX": 9, "legendY": 13}},
  "order": {"field": "o", "type": "quantitative"}}},
{"title": "(g) CNSW-2.0", "data": {"name": "g"}, "width": 240, "height": 250,
 "mark": {"type": "line", "strokeWidth": 3.5, "color": "#111"},
 "encoding": {
  "x": {"field": "x", "type": "quantitative", "scale": {"domain": [-4, 4], "nice": false, "zero": false}, "axis": {"values": [-4, -2, 0, 2, 4], "labelExpr": "'' + datum.value", "offset": -125, "title": "θb/sθp", "titleX": 214, "titleY": 45}},
  "y": {"field": "y", "type": "quantitative", "scale": {"domain": [-1500, 1500], "nice": false}, "axis": {"values": [-1500, -500, 500, 1500], "labelExpr": "'' + datum.value", "offset": -120, "title": "Mb[kNm]", "titleX": 28, "titleY": -10}},
  "strokeDash": {"field": "s", "type": "nominal", "scale": {"domain": ["解析値", "実験値"], "range": [[1, 0], [7, 4]]}, "legend": {"title": null, "orient": "none", "legendX": 9, "legendY": 13}},
  "order": {"field": "o", "type": "quantitative"}}},
{"title": "(h) CNSW-3.0", "data": {"name": "h"}, "width": 240, "height": 250,
 "mark": {"type": "line", "strokeWidth": 3.5, "color": "#111"},
 "encoding": {
  "x": {"field": "x", "type": "quantitative", "scale": {"domain": [-4, 4], "nice": false, "zero": false}, "axis": {"values": [-4, -2, 0, 2, 4], "labelExpr": "'' + datum.value", "offset": -125, "title": "θb/sθp", "titleX": 214, "titleY": 45}},
  "y": {"field": "y", "type": "quantitative", "scale": {"domain": [-1500, 1500], "nice": false}, "axis": {"values": [-1500, -500, 500, 1500], "labelExpr": "'' + datum.value", "offset": -120, "title": "Mb[kNm]", "titleX": 28, "titleY": -10}},
  "strokeDash": {"field": "s", "type": "nominal", "scale": {"domain": ["解析値", "実験値"], "range": [[1, 0], [7, 4]]}, "legend": {"title": null, "orient": "none", "legendX": -24, "legendY": 6, "fillColor": "white", "padding": 6}},
  "order": {"field": "o", "type": "quantitative"}}}
],
"config": {
 "background": "white",
 "view": {"stroke": "#1a1a1a", "strokeWidth": 1.5},
 "font": "Liberation Serif",
 "axis": {"grid": false, "domainColor": "#111", "domainWidth": 1.2, "tickColor": "#111", "tickSize": 3, "labelColor": "#111", "labelFont": "Liberation Serif", "labelFontWeight": "bold", "labelFontSize": 16, "labelFlush": false, "labelOverlap": false, "labelBound": false, "titleColor": "#111", "titleFont": "Liberation Serif"},
 "axisX": {"labelPadding": 9, "titleFontStyle": "italic", "titleFontWeight": "normal", "titleFontSize": 20, "titleAlign": "center", "titleBaseline": "middle"},
 "axisY": {"labelPadding": 12, "titleFontWeight": "bold", "titleFontSize": 18, "titleAngle": 0, "titleAlign": "center", "titleBaseline": "middle"},
 "legend": {"symbolType": "stroke", "symbolSize": 1300, "symbolStrokeWidth": 3.5, "symbolStrokeColor": "#111", "labelFont": "Noto Sans CJK JP", "labelFontSize": 12, "labelFontWeight": "bold", "labelColor": "#111", "rowPadding": -13, "labelOffset": 4},
 "title": {"orient": "bottom", "font": "Liberation Serif", "fontSize": 21, "fontWeight": "normal", "color": "#111", "offset": 4, "anchor": "middle"}
}
}
